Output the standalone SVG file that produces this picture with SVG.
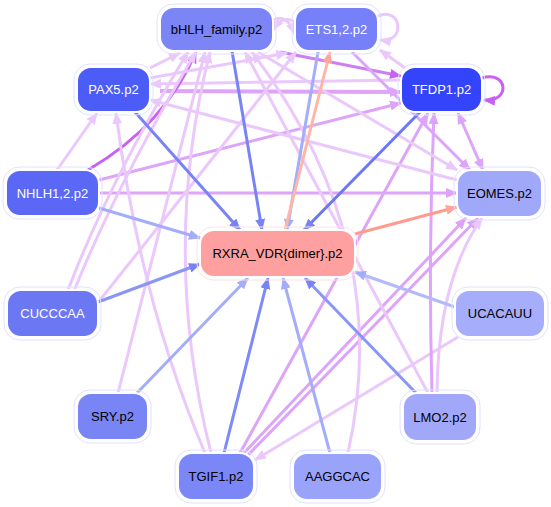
<svg xmlns="http://www.w3.org/2000/svg" width="551" height="507" viewBox="0 0 551 507">
<style>
.n rect.o{fill:none;stroke:#dfe2ff;stroke-width:1}
.n rect.i{stroke:#ffffff;stroke-width:2}
.n text{font-family:"Liberation Sans",Arial,sans-serif;font-size:13px;text-anchor:middle;dominant-baseline:central}
.w{fill:#ffffff}
.k{fill:#000000}
#edges path{fill:none;stroke-width:3}
.b{stroke:#7884f6}
.bl{stroke:#a3adfa}
.s{stroke:#ffa49a}
.pl{stroke:#ebc8fc}
.pm{stroke:#dda4f9}
.pd{stroke:#c860f0}
</style>
<defs>
<marker id="mb" markerUnits="userSpaceOnUse" markerWidth="12" markerHeight="10" refX="11" refY="5" orient="auto"><path d="M0,0 L12,5 L0,10 z" fill="#7884f6"/></marker>
<marker id="mbl" markerUnits="userSpaceOnUse" markerWidth="12" markerHeight="10" refX="11" refY="5" orient="auto"><path d="M0,0 L12,5 L0,10 z" fill="#a3adfa"/></marker>
<marker id="ms" markerUnits="userSpaceOnUse" markerWidth="12" markerHeight="10" refX="11" refY="5" orient="auto"><path d="M0,0 L12,5 L0,10 z" fill="#ffa49a"/></marker>
<marker id="mpl" markerUnits="userSpaceOnUse" markerWidth="12" markerHeight="10" refX="11" refY="5" orient="auto"><path d="M0,0 L12,5 L0,10 z" fill="#ebc8fc"/></marker>
<marker id="mpm" markerUnits="userSpaceOnUse" markerWidth="12" markerHeight="10" refX="11" refY="5" orient="auto-start-reverse"><path d="M0,0 L12,5 L0,10 z" fill="#dda4f9"/></marker>
<marker id="mpd" markerUnits="userSpaceOnUse" markerWidth="12" markerHeight="10" refX="11" refY="5" orient="auto"><path d="M0,0 L12,5 L0,10 z" fill="#c860f0"/></marker>
</defs>
<rect width="551" height="507" fill="#ffffff"/>
<g id="edges">
<!-- purple -->
<path class="pl" d="M295,22 C287,17 280,19 273,30" marker-end="url(#mpl)"/>
<path class="pl" d="M273,20 C284,15 290,22 295,34" marker-end="url(#mpl)"/>
<path class="pl" d="M378,16 C402,6 406,44 380,40" marker-end="url(#mpl)"/>
<path class="pd" d="M482,78 C507,70 512,102 484,100" marker-end="url(#mpd)"/>
<path class="pl" d="M150,68 L180,53" marker-end="url(#mpl)"/>
<path class="pl" d="M401,80 L150,84" marker-end="url(#mpl)"/>
<path class="pm" d="M160,91 L401,92" marker-end="url(#mpm)" style="stroke-width:4"/>
<path class="pd" d="M280,52 L401,76" marker-end="url(#mpd)" style="stroke:#cc80f3"/>
<path class="pd" d="M88,170 Q165,125 196,52" marker-end="url(#mpd)"/>
<path class="pm" d="M99,180 L401,103" marker-end="url(#mpm)"/>
<path class="pm" d="M99,193 L457,193" marker-end="url(#mpm)"/>
<path class="pl" d="M57,170 L97,113" marker-end="url(#mpl)"/>
<path class="pl" d="M68,290 Q110,180 188,52" marker-end="url(#mpl)"/>
<path class="pl" d="M74,291 Q118,182 196,52" marker-end="url(#mpl)"/>
<path class="pl" d="M118,393 L205,52" marker-end="url(#mpl)"/>
<path class="pl" d="M205,453 Q140,300 116,113" marker-end="url(#mpl)"/>
<path class="pl" d="M211,453 Q160,250 210,52" marker-end="url(#mpl)"/>
<path class="pm" d="M240,453 L428,113" marker-end="url(#mpm)"/>
<path class="pm" d="M244,453 L466,218" marker-end="url(#mpm)"/>
<path class="pm" d="M248,455 Q380,320 478,218" marker-end="url(#mpm)"/>
<path class="pl" d="M458,337 L255,460" marker-end="url(#mpl)"/>
<path class="pm" d="M432,393 Q428,250 434,113" marker-end="url(#mpm)"/>
<path class="pl" d="M437,393 Q438,280 482,218" marker-end="url(#mpl)"/>
<path class="pl" d="M428,393 L245,52" marker-end="url(#mpl)"/>
<path class="pl" d="M348,453 Q395,240 252,52" marker-end="url(#mpl)"/>
<path class="pl" d="M457,180 L150,100" marker-end="url(#mpl)"/>
<path class="pl" d="M258,52 L457,170" marker-end="url(#mpl)"/>
<path class="pm" d="M352,52 L470,170" marker-end="url(#mpm)"/>
<path class="pm" d="M458,113 L483,170" marker-start="url(#mpm)" marker-end="url(#mpm)"/>
<path class="pl" d="M405,68 L380,50" marker-end="url(#mpl)"/>
<path class="pl" d="M150,78 L287,53" marker-end="url(#mpl)"/>
<path class="pl" d="M100,300 Q180,200 296,52" marker-end="url(#mpl)"/>
<!-- blue into RXRA -->
<path class="b" d="M232,51 L262,230" marker-end="url(#mb)"/>
<path class="b" d="M135,112 L240,230" marker-end="url(#mb)"/>
<path class="b" d="M420,112 L304,230" marker-end="url(#mb)" style="stroke:#6a77f6"/>
<path class="bl" d="M99,208 L200,238" marker-end="url(#mbl)"/>
<path class="b" d="M98,302 L200,264" marker-end="url(#mb)" style="stroke:#8a95f7"/>
<path class="bl" d="M137,393 L248,278" marker-end="url(#mbl)"/>
<path class="b" d="M224,453 L268,278" marker-end="url(#mb)" style="stroke:#7e8af8"/>
<path class="bl" d="M330,453 L283,278" marker-end="url(#mbl)"/>
<path class="b" d="M416,393 L305,278" marker-end="url(#mb)" style="stroke:#8a95f7"/>
<path class="bl" d="M455,307 L355,272" marker-end="url(#mbl)" style="stroke:#b2baf9"/>
<path class="bl" d="M318,52 L287,230" marker-end="url(#mbl)"/>
<!-- salmon -->
<path class="s" d="M285,230 L330,52" marker-end="url(#ms)" style="stroke:#ffb6a6"/>
<path class="s" d="M355,234 L457,207" marker-end="url(#ms)" style="stroke:#ff9a90"/>
</g>
<g id="n_bHLH" class="n"><rect class="o" x="157" y="4" width="119" height="50" rx="16"/><rect class="i" x="160" y="7" width="113" height="44" rx="14" fill="#7b85f6"/><text class="k" x="216.5" y="29">bHLH_family.p2</text></g>
<g id="n_ETS" class="n"><rect class="o" x="292" y="4" width="89" height="50" rx="16"/><rect class="i" x="295" y="7" width="83" height="44" rx="14" fill="#7680f8"/><text class="w" x="336.5" y="29">ETS1,2.p2</text></g>
<g id="n_PAX5" class="n"><rect class="o" x="74" y="64" width="79" height="51" rx="16"/><rect class="i" x="77" y="67" width="73" height="45" rx="14" fill="#4c5cf7"/><text class="w" x="113.5" y="89.5">PAX5.p2</text></g>
<g id="n_TFDP1" class="n"><rect class="o" x="398" y="64" width="87" height="51" rx="16"/><rect class="i" x="401" y="67" width="81" height="45" rx="14" fill="#3344fb"/><text class="w" x="441.5" y="89.5">TFDP1.p2</text></g>
<g id="n_NHLH" class="n"><rect class="o" x="3" y="167" width="99" height="52" rx="16"/><rect class="i" x="6" y="170" width="93" height="46" rx="14" fill="#5b67f5"/><text class="w" x="52.5" y="193">NHLH1,2.p2</text></g>
<g id="n_RXRA" class="n"><rect class="o" x="197" y="227" width="161" height="53" rx="16" style="stroke:#ffe2e2"/><rect class="i" x="200" y="230" width="155" height="47" rx="14" fill="#ffa0a0"/><text class="k" x="277.5" y="253.5">RXRA_VDR{dimer}.p2</text></g>
<g id="n_EOMES" class="n"><rect class="o" x="454" y="167" width="91" height="53" rx="16"/><rect class="i" x="457" y="170" width="85" height="47" rx="14" fill="#a0a8fa"/><text class="k" x="499.5" y="193.5">EOMES.p2</text></g>
<g id="n_UCACAUU" class="n"><rect class="o" x="452" y="287" width="96" height="53" rx="16"/><rect class="i" x="455" y="290" width="90" height="47" rx="14" fill="#a6adfb"/><text class="k" x="500" y="313.5">UCACAUU</text></g>
<g id="n_CUCCCAA" class="n"><rect class="o" x="4" y="287" width="97" height="53" rx="16"/><rect class="i" x="7" y="290" width="91" height="47" rx="14" fill="#6c77f4"/><text class="w" x="52.5" y="313.5">CUCCCAA</text></g>
<g id="n_SRY" class="n"><rect class="o" x="74" y="390" width="77" height="53" rx="16"/><rect class="i" x="77" y="393" width="71" height="47" rx="14" fill="#7a85f5"/><text class="k" x="112.5" y="416.5">SRY.p2</text></g>
<g id="n_TGIF1" class="n"><rect class="o" x="175" y="450" width="82" height="53" rx="16"/><rect class="i" x="178" y="453" width="76" height="47" rx="14" fill="#7c87f7"/><text class="k" x="216" y="476.5">TGIF1.p2</text></g>
<g id="n_AAGGCAC" class="n"><rect class="o" x="290" y="450" width="95" height="53" rx="16"/><rect class="i" x="293" y="453" width="89" height="47" rx="14" fill="#9aa3fa"/><text class="k" x="337.5" y="476.5">AAGGCAC</text></g>
<g id="n_LMO2" class="n"><rect class="o" x="400" y="390" width="80" height="54" rx="16"/><rect class="i" x="403" y="393" width="74" height="48" rx="14" fill="#a1a8fa"/><text class="k" x="440" y="417">LMO2.p2</text></g>
</svg>
